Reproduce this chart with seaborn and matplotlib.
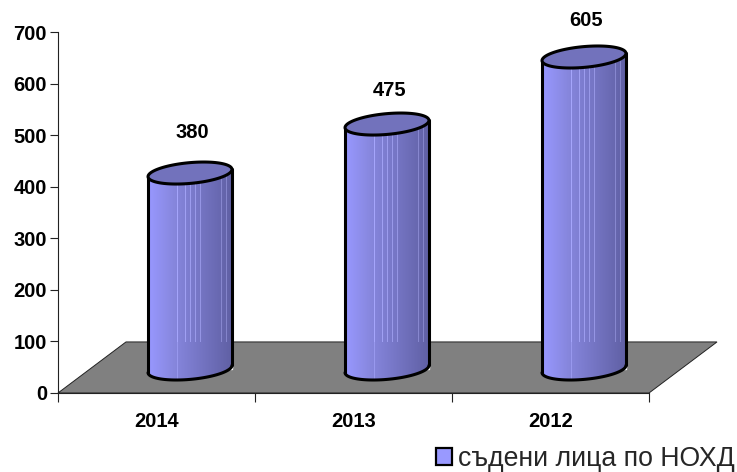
import numpy as np
import pandas as pd
import matplotlib
matplotlib.use('Agg')
import matplotlib.pyplot as plt
from matplotlib.patches import Polygon, Patch
import seaborn as sns

# valores do grafico
anos = ['2014', '2013', '2012']
valores = [380, 475, 605]
serie = 'съдени лица по НОХД'
yticks = [0, 100, 200, 300, 400, 500, 600, 700]

sns.set_theme(style='ticks')
plt.rcParams['font.family'] = ['Liberation Sans', 'DejaVu Sans']

W, H = 737, 472
fig = plt.figure(figsize=(W / 100, H / 100), dpi=100)
ax = fig.add_axes([58 / W, 1 - 393 / H, 591 / W, 361 / H])

df = pd.DataFrame({'ano': anos, 'valor': valores})
sns.barplot(data=df, x='ano', y='valor', color='#9999FF', saturation=1, width=0.426, ax=ax, zorder=2)

px_x = 3 / 591      # 1 px em unidades de categoria
px_y = 700 / 361    # 1 px em unidades de valor
desloc_x = 33.5 * px_x
base_y = 24 * px_y
prof_x = 68 * px_x
prof_y = 99

# chao cinza em perspectiva
chao = Polygon([(-0.5, 0), (2.5, 0), (2.5 + prof_x, prof_y), (-0.5 + prof_x, prof_y)],
               closed=True, facecolor='#808080', edgecolor='#222222', linewidth=0.7,
               clip_on=False, zorder=1)
ax.add_patch(chao)

# gradiente do cilindro
cor_esq = np.array([152, 152, 255]) / 255
cor_meio = np.array([135, 135, 222]) / 255
cor_dir = np.array([96, 96, 165]) / 255
n = 84
t = np.linspace(0, 1, n)[:, None]
grad = np.where(t < 0.3, cor_esq + (cor_meio - cor_esq) * t / 0.3,
                cor_meio + (cor_dir - cor_meio) * (t - 0.3) / 0.7)
grad_alto = grad.copy()
for c in [29, 37, 42, 47, 52, 73, 78]:
    grad_alto[c] = np.minimum(grad_alto[c] + 0.13, 1)
grad_baixo = grad.copy()
grad_baixo[29] = np.minimum(grad_baixo[29] + 0.08, 1)

b = 10.4 * px_y
incl = 3.6 * px_y
ang = np.linspace(0, 2 * np.pi, 121)

for bar, valor in zip(ax.patches, valores):
    bar.set_x(bar.get_x() + desloc_x)
    bar.set_y(base_y)
    esq = bar.get_x()
    dir_ = esq + bar.get_width()
    cx = (esq + dir_) / 2
    a = bar.get_width() / 2
    topo = base_y + valor

    # borda inferior (frente) e elipse de cima
    t_inf = np.linspace(np.pi, 2 * np.pi, 60)
    inf_x = cx + a * np.cos(t_inf)
    inf_y = base_y + b * np.sin(t_inf) + incl * np.cos(t_inf)
    el_x = cx + a * np.cos(ang)
    el_y = topo + b * np.sin(ang) + incl * np.cos(ang)

    corpo_xy = np.vstack([np.c_[inf_x, inf_y], [[dir_, topo + incl]], [[esq, topo - incl]]])
    corpo = Polygon(corpo_xy, closed=True, facecolor='none', edgecolor='none', transform=ax.transData)
    ax.add_patch(corpo)
    corpo.set_clip_on(False)

    for img, y0, y1 in [(grad_baixo, base_y - 30, prof_y), (grad_alto, prof_y, topo + 30)]:
        im = ax.imshow(img[None, :, :], extent=[esq, dir_, y0, y1], aspect='auto',
                       interpolation='nearest', zorder=3)
        im.set_clip_path(corpo)

    ax.plot(inf_x, inf_y, color='black', lw=2.2, zorder=4, solid_capstyle='round', clip_on=False)
    ax.plot([dir_, dir_], [inf_y[-1], topo + incl], color='black', lw=2.2, zorder=4, clip_on=False)
    ax.plot([esq, esq], [inf_y[0], topo - incl], color='black', lw=2.2, zorder=4, clip_on=False)
    tampa = Polygon(np.c_[el_x, el_y], closed=True, facecolor='#7272BC', edgecolor='black',
                    linewidth=2.2, zorder=5, clip_on=False)
    ax.add_patch(tampa)

# rotulos de dados
desloc_rotulo = [41, 34, 36]
for i, valor in enumerate(valores):
    ax.annotate(str(valor), (i + desloc_x, base_y + valor), xytext=(1.5, desloc_rotulo[i] * 0.72),
                textcoords='offset points', ha='center', va='center',
                fontsize=14.5, fontweight='bold', color='black', annotation_clip=False)

ax.set_xlim(-0.5, 2.5)
ax.set_ylim(0, 700)
ax.set_xlabel('')
ax.set_ylabel('')
ax.set_yticks(yticks)
ax.set_xticks([-0.5, 0.5, 1.5, 2.5])
ax.set_xticklabels([])
ax.set_xticks([0, 1, 2], labels=anos, minor=True)
ax.tick_params(axis='x', which='minor', length=0, pad=14, labelsize=14.5)
ax.tick_params(axis='x', which='major', length=6.5, width=0.8, color='#222222')
ax.tick_params(axis='y', length=6, width=0.8, color='#222222', pad=2, labelsize=14.5)
for lab in ax.get_xticklabels(minor=True) + ax.get_yticklabels():
    lab.set_fontweight('bold')
    lab.set_color('black')
sns.despine(ax=ax)
for s in ['left', 'bottom']:
    ax.spines[s].set_color('#222222')
    ax.spines[s].set_linewidth(0.8)
    ax.spines[s].set_zorder(1.5)

# legenda
fig.legend(handles=[Patch(facecolor='#9999FF', edgecolor='black', linewidth=1.6, label=serie)],
           loc='lower right', bbox_to_anchor=(1.0, -3 / H), frameon=False, fontsize=19.2,
           handlelength=0.6, handleheight=0.6, handletextpad=0.2, borderpad=0.1, borderaxespad=0)

fig.savefig('out.png', dpi=100)
